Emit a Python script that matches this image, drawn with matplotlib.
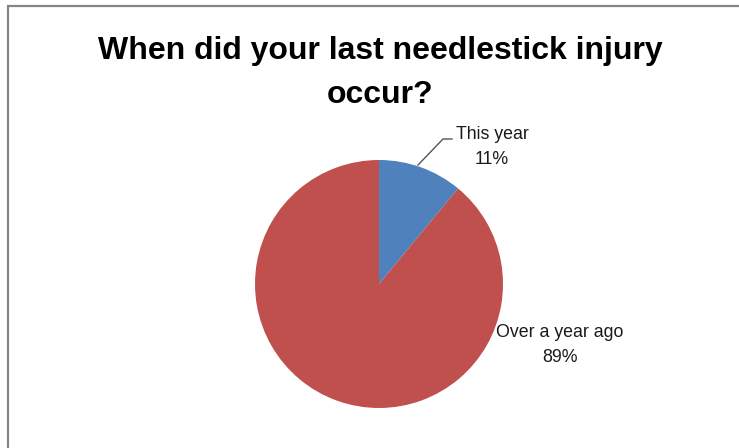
import matplotlib
matplotlib.use("Agg")
import matplotlib.pyplot as plt
from matplotlib.patches import Rectangle

categories = ["This year", "Over a year ago"]
values = [11, 89]
colors = ["#4F81BD", "#C0504D"]
title = "When did your last needlestick injury\noccur?"

W, H = 739, 448
fig = plt.figure(figsize=(W / 100, H / 100), dpi=100)
fig.patch.set_facecolor("white")

# border
fig.patches.append(Rectangle((8 / W, -0.1), 1.2, (H - 6) / H + 0.1, transform=fig.transFigure,
                             fill=False, edgecolor="#868686", linewidth=1.6, clip_on=False))

cx, cy, r = 379, H - 284, 124
ax = fig.add_axes([(cx - r) / W, (cy - r) / H, 2 * r / W, 2 * r / H])
wedges, _ = ax.pie(values, colors=colors, startangle=90, counterclock=False, radius=1,
                   wedgeprops=dict(linewidth=0))
ax.set_xlim(-1, 1)
ax.set_ylim(-1, 1)
ax.set_aspect("equal")
ax.axis("off")

fontfam = ["Liberation Sans", "DejaVu Sans"]

def px(x, y):
    return x / W, 1 - y / H

fig.text(*px(380, 73), title, ha="center", va="center", fontsize=23, fontweight="bold",
         family=fontfam, linespacing=1.58)

total = sum(values)
fig.text(*px(492, 147), f"{categories[0]}\n{round(values[0] / total * 100)}%", ha="center",
         va="center", fontsize=12.8, family=fontfam, color="#1a1a1a", linespacing=1.6)
fig.text(*px(560, 345), f"{categories[1]}\n{round(values[1] / total * 100)}%", ha="center",
         va="center", fontsize=12.8, family=fontfam, color="#1a1a1a", linespacing=1.6)

# leader line for small slice
xs = [418 / W, 443 / W, 452 / W]
ys = [1 - 165 / H, 1 - 139 / H, 1 - 139 / H]
fig.add_artist(plt.Line2D(xs, ys, color="#555555", linewidth=1.0, transform=fig.transFigure))

fig.savefig("out.png", dpi=100)
